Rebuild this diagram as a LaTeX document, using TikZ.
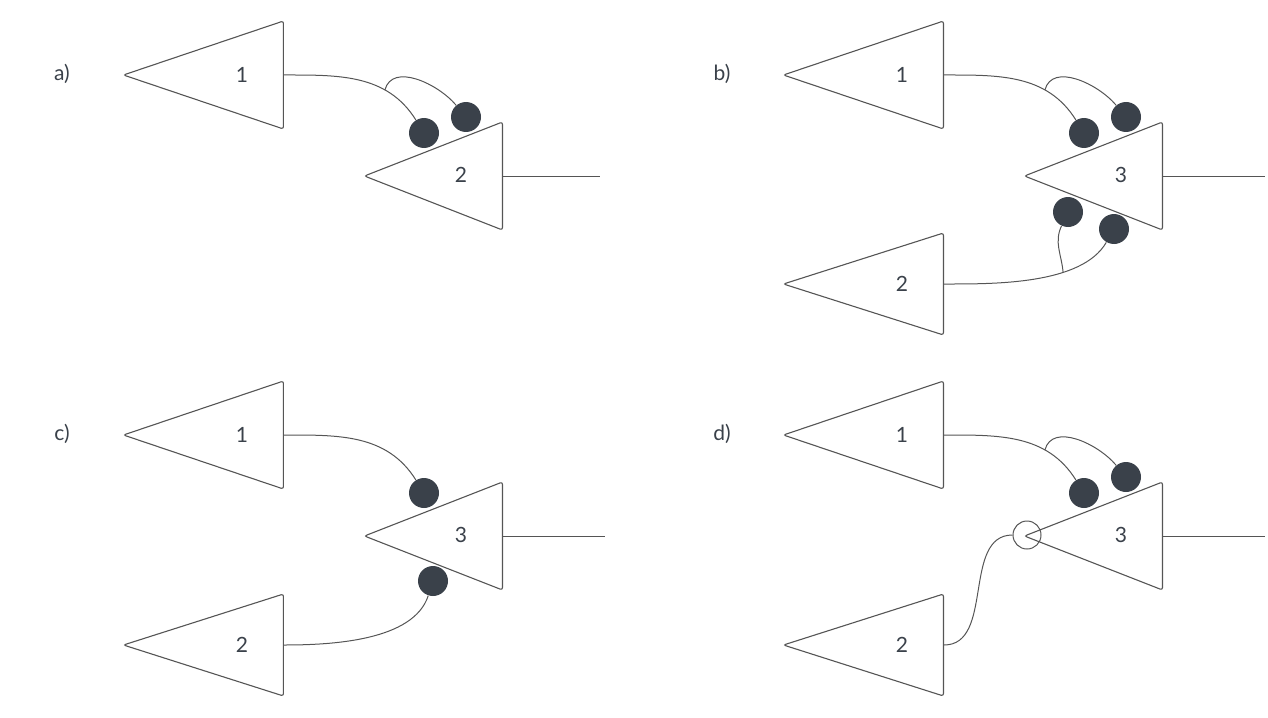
\documentclass[tikz,border=0pt]{standalone}
\usepackage{fontspec}
\setmainfont{Lato}
\usetikzlibrary{shapes.geometric}
\definecolor{linegray}{HTML}{555555}
\definecolor{inkgray}{HTML}{3A414A}
\tikzset{
	cell/.style={draw=linegray, fill=white, line width=0.55pt, isosceles triangle, isosceles triangle stretches, shape border rotate=180, minimum width=54pt, minimum height=80pt, inner sep=0pt, rounded corners=1.2pt, anchor=east},
	smallcell/.style={cell, minimum width=51pt},
	outcell/.style={cell, minimum height=69pt},
	num/.style={text=inkgray, font=\fontsize{10.5}{12}\selectfont},
	syn/.style={circle, fill=inkgray, minimum size=15pt, inner sep=0pt},
	inh/.style={circle, draw=linegray, line width=0.5pt, minimum size=14pt, inner sep=0pt},
	wire/.style={draw=linegray, line width=0.5pt},
}

\begin{document}
\begin{tikzpicture}[x=0.5pt, y=0.5pt]
			%%%%% START %%%%%
			\useasboundingbox (0,0) rectangle (1268,-717);
			
			\node[num] (pa) at (62,-74) {a)};
			\node[cell] (a1) at (284,-75) {};
			\node[num] (a1n) at (242,-75) {1};
			\node[outcell] (a2) at (503,-176) {};
			\node[num] (a2n) at (461,-175) {2};
			\node[syn] (da1) at (424,-133) {};
			\node[syn] (da2) at (466,-117) {};
			\coordinate (ao) at (600,-176);
			\draw[wire] (a1.east) to[out=0, in=122] coordinate[pos=0.7] (ab) (da1);
			\draw[wire] (ab) to[out=75, in=130] (da2);
			\draw[wire] (a2.east) -- (ao);
			
			\node[num] (pb) at (722,-74) {b)};
			\node[cell] (b1) at (944,-75) {};
			\node[num] (b1n) at (902,-75) {1};
			\node[outcell] (b3) at (1163,-176) {};
			\node[num] (b3n) at (1121,-175) {3};
			\node[smallcell] (b2) at (944,-284) {};
			\node[num] (b2n) at (902,-284) {2};
			\node[syn] (db1) at (1084,-133) {};
			\node[syn] (db2) at (1126,-117) {};
			\node[syn] (db3) at (1068,-212) {};
			\node[syn] (db4) at (1114,-229) {};
			\coordinate (bo) at (1265,-176);
			\draw[wire] (b1.east) to[out=0, in=122] coordinate[pos=0.7] (bb) (db1);
			\draw[wire] (bb) to[out=75, in=130] (db2);
			\draw[wire] (b2.east) to[out=0, in=-120, looseness=0.75] coordinate[pos=0.66] (bc) (db4);
			\draw[wire] (bc) to[out=95, in=-115] (db3);
			\draw[wire] (b3.east) -- (bo);
			
			\node[num] (pc) at (62,-434) {c)};
			\node[cell] (c1) at (284,-435) {};
			\node[num] (c1n) at (242,-435) {1};
			\node[outcell] (c3) at (503,-536) {};
			\node[num] (c3n) at (461,-535) {3};
			\node[smallcell] (c2) at (284,-645) {};
			\node[num] (c2n) at (242,-645) {2};
			\node[syn] (dc1) at (424,-493) {};
			\node[syn] (dc2) at (433,-581) {};
			\coordinate (co) at (605,-536);
			\draw[wire] (c1.east) to[out=0, in=122] (dc1);
			\draw[wire] (c2.east) to[out=0, in=-108, looseness=0.8] (dc2);
			\draw[wire] (c3.east) -- (co);
			
			\node[num] (pd) at (722,-434) {d)};
			\node[cell] (d1) at (944,-435) {};
			\node[num] (d1n) at (902,-435) {1};
			\node[outcell] (d3) at (1163,-536) {};
			\node[num] (d3n) at (1121,-535) {3};
			\node[smallcell] (d2) at (944,-645) {};
			\node[num] (d2n) at (902,-645) {2};
			\node[syn] (dd1) at (1084,-493) {};
			\node[syn] (dd2) at (1126,-477) {};
			\node[inh] (dd3) at (1027,-535) {};
			\coordinate (do) at (1265,-536);
			\draw[wire] (d1.east) to[out=0, in=122] coordinate[pos=0.7] (db) (dd1);
			\draw[wire] (db) to[out=75, in=130] (dd2);
			\draw[wire] (d2.east) to[out=0, in=180] (dd3);
			\draw[wire] (d3.east) -- (do);
			
			%%%%% END %%%%%
\end{tikzpicture}
\end{document}
